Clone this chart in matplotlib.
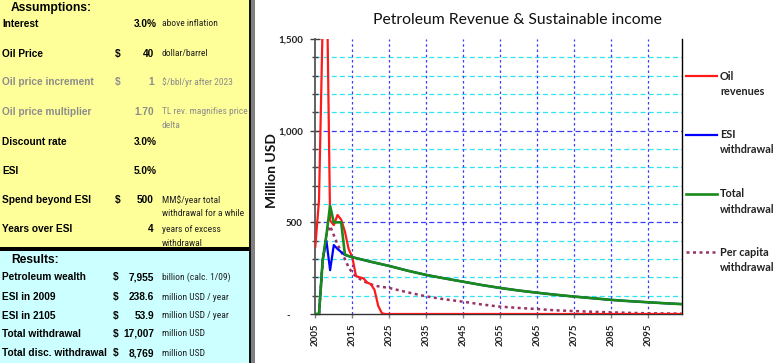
import matplotlib
matplotlib.use("Agg")
import matplotlib.pyplot as plt
from matplotlib import font_manager
from matplotlib.patches import Rectangle
from matplotlib.lines import Line2D
from matplotlib.ticker import FixedLocator, FixedFormatter, MultipleLocator

# ---------------- data ----------------
oil_years = list(range(2005, 2105))
oil_revenue = [367, 620, 1600, 2000, 510, 485, 540, 515, 450, 355, 310, 207, 200,
               195, 172, 163, 132, 45, 4] + [0] * 81

head_years = [2005, 2006, 2007, 2008, 2009, 2010, 2011, 2012, 2013, 2014, 2015]
esi_head = [0, 0, 295, 400, 239, 376, 355, 338, 322, 316, 310]
total_head = [0, 0, 295, 430, 590, 500, 500, 500, 325, 316, 310]
tail_years = [2020, 2025, 2030, 2035, 2040, 2045, 2050, 2055, 2060, 2065, 2070,
              2075, 2080, 2085, 2090, 2095, 2100, 2104]
tail_values = [285, 262, 236, 213, 194, 176, 158, 142, 128, 116, 105,
               95, 86, 77, 70, 64, 58, 54]

pc_years = [2006, 2007, 2008, 2009, 2010, 2011, 2012, 2013, 2014, 2015, 2016, 2017,
            2018, 2019, 2020, 2021, 2022, 2023, 2024, 2025, 2030, 2035, 2040, 2045,
            2050, 2055, 2060, 2065, 2070, 2075, 2080, 2085, 2090, 2095, 2100, 2104]
per_capita = [0, 290, 430, 480, 430, 380, 340, 300, 255, 225, 205, 192,
              180, 170, 162, 156, 151, 148, 145, 142, 118, 96, 80, 67,
              52, 40, 33, 27, 20, 16, 12, 9, 6, 4, 3, 2]

x_ticks = list(range(2005, 2100, 10))
y_ticks = [0, 500, 1000, 1500]
y_tick_labels = ["-     ", "500", "1,000", "1,500"]

legend_labels = [("Oil", "revenues"), ("ESI", "withdrawal"),
                 ("Total", "withdrawal"), ("Per capita", "withdrawal")]

assumptions = [
    ("Interest", 24, None, "3.0%", 157, ["above inflation"], False),
    ("Oil Price", 54, "$", "40", 154, ["dollar/barrel"], False),
    ("Oil price increment", 82, "$", "1", 154, ["$/bbl/yr after 2023"], True),
    ("Oil price multiplier", 112, None, "1.70", 154, ["TL rev. magnifies price", "delta"], True),
    ("Discount rate", 142, None, "3.0%", 157, [], False),
    ("ESI", 171, None, "5.0%", 157, [], False),
    ("Spend beyond ESI", 200, "$", "500", 154, ["MM$/year total", "withdrawal for a while"], False),
    ("Years over ESI", 229, None, "4", 154, ["years of excess", "withdrawal"], False),
]
results = [
    ("Petroleum wealth", 277, "7,955", "billion (calc. 1/09)"),
    ("ESI in 2009", 297, "238.6", "million USD / year"),
    ("ESI in 2105", 316, "53.9", "million USD / year"),
    ("Total withdrawal", 334, "17,007", "million USD"),
    ("Total disc. withdrawal", 353, "8,769", "million USD"),
]

# pick a narrow font for the unit notes if one is installed
_names = {f.name for f in font_manager.fontManager.ttflist}
NARROW = [n for n in ["Liberation Sans Narrow", "Roboto Condensed", "Arial Narrow"] if n in _names]
if NARROW:
    UNIT = dict(family=[NARROW[0], "DejaVu Sans"], fontsize=6.8)
else:
    UNIT = dict(family=["Roboto", "DejaVu Sans"], fontsize=6.25)

# ---------------- figure ----------------
W, H = 780, 363
fig = plt.figure(figsize=(7.8, 3.63), dpi=100)
fig.patch.set_facecolor("white")


def fx(x):
    return x / W


def fy(y):
    return 1 - y / H


def rect(x0, y0, x1, y1, color):
    fig.add_artist(Rectangle((fx(x0), fy(y1)), fx(x1) - fx(x0), fy(y0) - fy(y1),
                             transform=fig.transFigure, facecolor=color,
                             edgecolor="none", zorder=0))


# left panel
rect(0, 0, 249, 248, "#FFFF99")
rect(0, 250, 249, 363, "#CCFFFF")
rect(0, 247, 249, 250.5, "#000000")
rect(249, 0, 251, 363, "#111111")
rect(251, 0, 255, 363, "#808080")

LBL = dict(family=["Liberation Sans", "DejaVu Sans"], fontweight="bold", fontsize=7.3)
GRAY = "#8c8c8c"

fig.text(fx(11), fy(8.5), "Assumptions:", ha="left", va="center",
         family=["Liberation Sans", "DejaVu Sans"], fontweight="bold", fontsize=8.7)
for label, y, dollar, value, vr, units, grey in assumptions:
    c = GRAY if grey else "black"
    fig.text(fx(2), fy(y), label, ha="left", va="center", color=c, **LBL)
    if dollar:
        fig.text(fx(117.5), fy(y), dollar, ha="center", va="center", color=c, **LBL)
    fig.text(fx(vr), fy(y), value, ha="right", va="center", color=c, **LBL)
    for i, u in enumerate(units):
        fig.text(fx(162), fy(y + 14 * i), u, ha="left", va="center",
                 color=(GRAY if grey else "#222222"), **UNIT)

fig.text(fx(11.7), fy(260), "Results:", ha="left", va="center",
         family=["Liberation Sans", "DejaVu Sans"], fontweight="bold", fontsize=8.7)
for label, y, value, unit in results:
    fig.text(fx(2), fy(y), label, ha="left", va="center", color="black", **LBL)
    fig.text(fx(115.8), fy(y), "$", ha="center", va="center", color="black", **LBL)
    fig.text(fx(154), fy(y), value, ha="right", va="center", color="black", **LBL)
    fig.text(fx(162), fy(y), unit, ha="left", va="center", color="#222222", **UNIT)

# ---------------- chart ----------------
CH = ["Lato", "DejaVu Sans"]
ax_l, ax_r, ax_t, ax_b = 315.3, 681.5, 39, 314
ax = fig.add_axes([fx(ax_l), fy(ax_b), fx(ax_r) - fx(ax_l), (ax_b - ax_t) / H])
ax.set_facecolor("none")
ax.set_xlim(2005, 2104)
ax.set_ylim(0, 1500)

# gridlines
for yv in range(100, 1500, 100):
    if yv % 500 == 0:
        ax.axhline(yv, color="#3a3aff", lw=0.9, ls=(0, (4, 2.5)), zorder=1)
    else:
        ax.axhline(yv, color="#2fe4f4", lw=0.9, ls=(0, (4, 2.5)), zorder=1)
for xv in x_ticks[1:]:
    ax.axvline(xv, color="#3a3aff", lw=0.9, ls=(0, (2, 2.2)), zorder=1)

PC_LS = (0, (1.2, 1.4))
l_pc, = ax.plot(pc_years, per_capita, color="#993366", lw=1.8, ls=PC_LS, zorder=3)
l_oil, = ax.plot(oil_years, oil_revenue, color="#ff1a1a", lw=1.6, zorder=4)
l_esi, = ax.plot(head_years + tail_years, esi_head + tail_values, color="#0000ff",
                 lw=1.6, zorder=5)
l_tot, = ax.plot(head_years + tail_years, total_head + tail_values, color="#1a8a1a",
                 lw=1.9, zorder=6)

# axes styling
ax.spines["top"].set_visible(False)
ax.spines["right"].set_color("#000000")
ax.spines["right"].set_linewidth(1.0)
ax.spines["left"].set_color("#555555")
ax.spines["left"].set_linewidth(1.3)
ax.spines["bottom"].set_color("#333333")
ax.spines["bottom"].set_linewidth(1.0)

ax.yaxis.set_major_locator(FixedLocator(y_ticks))
ax.yaxis.set_major_formatter(FixedFormatter(y_tick_labels))
ax.yaxis.set_minor_locator(MultipleLocator(100))
ax.tick_params(axis="y", which="major", direction="inout", length=7, width=1,
               color="#404040", labelsize=7, pad=5.5, labelcolor="#222222")
ax.tick_params(axis="y", which="minor", direction="inout", length=4.5, width=1,
               color="#404040")
ax.set_xticks(x_ticks)
ax.set_xticklabels([str(v) for v in x_ticks], rotation=90)
ax.tick_params(axis="x", which="major", direction="out", length=3, width=1,
               color="#808080", labelsize=7, pad=4, labelcolor="#222222")
for t in ax.get_xticklabels() + ax.get_yticklabels():
    t.set_family(CH)
    t.set_fontweight("bold")

fig.text(fx(517), fy(20), "Petroleum Revenue & Sustainable income", ha="center",
         va="center", family=CH, fontsize=11.3, color="#111111")
fig.text(fx(271.7), fy(171), "Million USD", rotation=90, ha="center", va="center",
         family=CH, fontweight="bold", fontsize=10, color="#111111")

# legend (manual, to match the stacked two-line labels)
leg_y = [76, 134.5, 193.5, 252]
for (l1, l2), y, src in zip(legend_labels, leg_y, [l_oil, l_esi, l_tot, l_pc]):
    fig.add_artist(Line2D([fx(686), fx(717)], [fy(y), fy(y)], transform=fig.transFigure,
                          color=src.get_color(), lw=src.get_linewidth(),
                          ls=PC_LS if src is l_pc else "-"))
    fig.text(fx(720), fy(y), l1, ha="left", va="center", family=CH,
             fontweight="bold", fontsize=7.8, color="#222222")
    fig.text(fx(720), fy(y + 15.5), l2, ha="left", va="center", family=CH,
             fontweight="bold", fontsize=7.8, color="#222222")

fig.savefig("out.png", dpi=100)
